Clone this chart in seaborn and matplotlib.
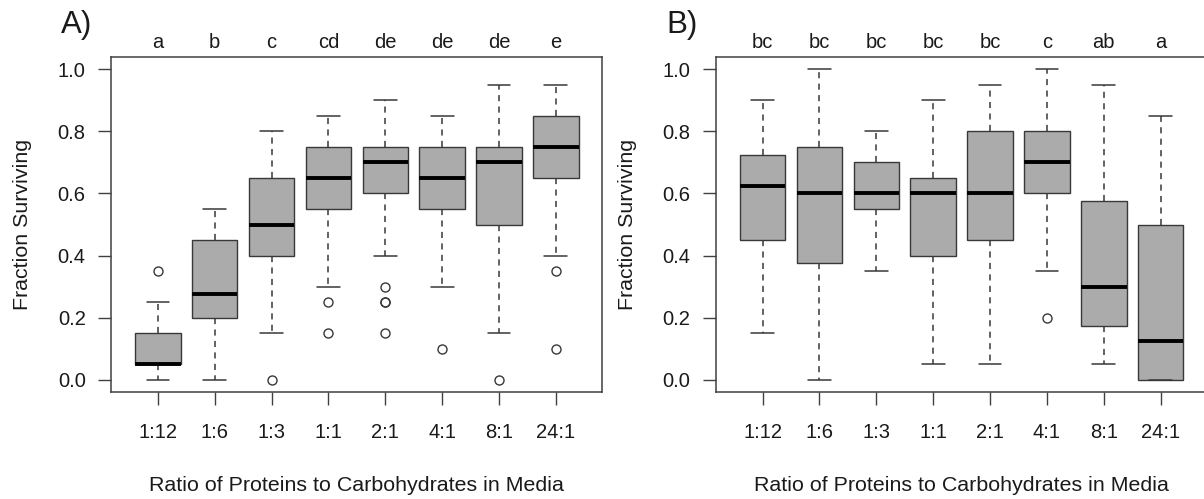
import matplotlib
matplotlib.use("Agg")
import matplotlib.pyplot as plt
import matplotlib.transforms as mtransforms
import seaborn as sns

# ratio groups on the x axis
ratios = ["1:12", "1:6", "1:3", "1:1", "2:1", "4:1", "8:1", "24:1"]

# panel A box statistics
q1_a = [0.05, 0.20, 0.40, 0.55, 0.60, 0.55, 0.50, 0.65]
med_a = [0.05, 0.275, 0.50, 0.65, 0.70, 0.65, 0.70, 0.75]
q3_a = [0.15, 0.45, 0.65, 0.75, 0.75, 0.75, 0.75, 0.85]
lo_a = [0.00, 0.00, 0.15, 0.30, 0.40, 0.30, 0.15, 0.40]
hi_a = [0.25, 0.55, 0.80, 0.85, 0.90, 0.85, 0.95, 0.95]
out_a = [[0.35], [], [0.0], [0.25, 0.15], [0.30, 0.25, 0.25, 0.15], [0.10], [0.0], [0.35, 0.10]]
letters_a = ["a", "b", "c", "cd", "de", "de", "de", "e"]

# panel B box statistics
q1_b = [0.45, 0.375, 0.55, 0.40, 0.45, 0.60, 0.175, 0.00]
med_b = [0.625, 0.60, 0.60, 0.60, 0.60, 0.70, 0.30, 0.125]
q3_b = [0.725, 0.75, 0.70, 0.65, 0.80, 0.80, 0.575, 0.50]
lo_b = [0.15, 0.00, 0.35, 0.05, 0.05, 0.35, 0.05, 0.00]
hi_b = [0.90, 1.00, 0.80, 0.90, 0.95, 1.00, 0.95, 0.85]
out_b = [[], [], [], [], [], [0.20], [], []]
letters_b = ["bc", "bc", "bc", "bc", "bc", "c", "ab", "a"]

sns.set_theme(style="ticks")
plt.rcParams["font.family"] = ["Liberation Sans", "DejaVu Sans"]

TEXT = "#1a1a1a"
LINE = "#404040"

fig = plt.figure(figsize=(12.04, 4.99), dpi=100)
ax_a = fig.add_axes([0.0924, 0.2136, 0.408, 0.673])
ax_b = fig.add_axes([0.5947, 0.2136, 0.408, 0.673])


def draw_panel(ax, q1, med, q3, lo, hi, out, letters, tag):
    stats = []
    for i in range(len(ratios)):
        stats.append({"q1": q1[i], "med": med[i], "q3": q3[i],
                      "whislo": lo[i], "whishi": hi[i], "fliers": out[i]})
    ax.bxp(stats, positions=range(1, len(ratios) + 1), widths=0.8,
           patch_artist=True, showfliers=True,
           boxprops=dict(facecolor="#ababab", edgecolor="#383838", linewidth=1.0),
           medianprops=dict(color="black", linewidth=2.8, solid_capstyle="butt"),
           whiskerprops=dict(color="#383838", linewidth=1.1, linestyle=(0, (4, 3.5))),
           capprops=dict(color="#383838", linewidth=1.1),
           flierprops=dict(marker="o", markersize=6.5, markerfacecolor="none",
                           markeredgecolor="#383838", markeredgewidth=1.0))

    ax.set_xlim(0.18, 8.82)
    ax.set_ylim(-0.04, 1.04)
    ax.set_xticks(range(1, len(ratios) + 1))
    ax.set_xticklabels(ratios)
    ax.set_yticks([0.0, 0.2, 0.4, 0.6, 0.8, 1.0])
    ax.set_yticklabels(["0.0", "0.2", "0.4", "0.6", "0.8", "1.0"])
    ax.tick_params(axis="both", length=9.4, width=1.0, color=LINE,
                   labelsize=14.5, labelcolor=TEXT)
    ax.tick_params(axis="x", pad=12.5)
    ax.tick_params(axis="y", pad=9)
    for sp in ax.spines.values():
        sp.set_visible(True)
        sp.set_color(LINE)
        sp.set_linewidth(1.1)

    trans = mtransforms.blended_transform_factory(ax.transData, ax.transAxes)
    for i, lab in enumerate(letters):
        ax.text(i + 1, 1.0256, lab, transform=trans, ha="center", va="baseline",
                fontsize=14.5, color=TEXT)

    ax.text(0.5, -0.276, "Ratio of Proteins to Carbohydrates in Media",
            transform=ax.transAxes, ha="center", va="center", fontsize=15.4, color=TEXT)
    ax.text(-0.18, 0.5015, "Fraction Surviving", transform=ax.transAxes,
            rotation=90, ha="center", va="center", fontsize=15.4, color=TEXT)
    ax.text(-0.07, 1.094, tag, transform=ax.transAxes, ha="center", va="center",
            fontsize=22.5, color=TEXT)


draw_panel(ax_a, q1_a, med_a, q3_a, lo_a, hi_a, out_a, letters_a, "A)")
draw_panel(ax_b, q1_b, med_b, q3_b, lo_b, hi_b, out_b, letters_b, "B)")

fig.savefig("out.png", dpi=100)
